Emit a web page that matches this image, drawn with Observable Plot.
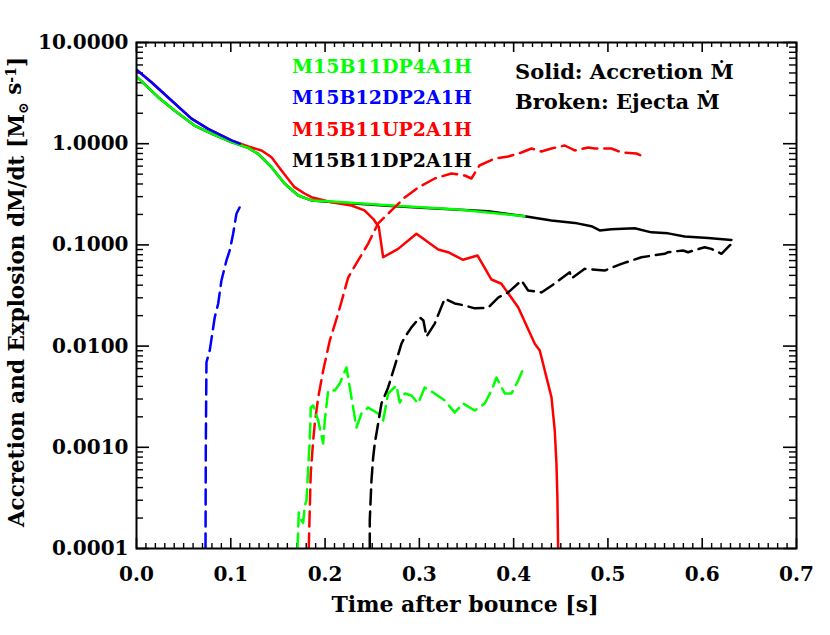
<!DOCTYPE html>
<html>
<head>
<meta charset="utf-8">
<script src="https://cdn.jsdelivr.net/npm/d3@7"></script>
<script src="https://cdn.jsdelivr.net/npm/@observablehq/plot@0.6"></script>
<style>
  html, body { margin: 0; padding: 0; background: #fff; }
  #chart { width: 830px; height: 635px; }
</style>
</head>
<body>
<div id="chart"></div>
<script>
// ---- Data (time after bounce [s], mass rate [Msun/s]) ----
// Solid lines: accretion rate
const tAccBlack = [0, 0.023, 0.0403, 0.0615, 0.0795, 0.1007, 0.1185, 0.129, 0.1432, 0.157, 0.1715, 0.1856, 0.2068, 0.2704, 0.3022, 0.373, 0.4118, 0.4401, 0.4648, 0.4825, 0.4913, 0.5037, 0.5284, 0.5461, 0.5638, 0.5814, 0.6063, 0.631];
const vAccBlack = [4.61, 2.88, 2.13, 1.51, 1.26, 1.035, 0.91, 0.794, 0.586, 0.404, 0.308, 0.275, 0.266, 0.242, 0.233, 0.215, 0.192, 0.174, 0.165, 0.153, 0.139, 0.143, 0.146, 0.133, 0.130, 0.121, 0.117, 0.112];

const tAccRed = [0, 0.0159, 0.0371, 0.0583, 0.076, 0.1007, 0.1185, 0.1326, 0.1432, 0.1538, 0.1676, 0.1782, 0.1856, 0.2068, 0.228, 0.2418, 0.251, 0.257, 0.2616, 0.2775, 0.2969, 0.32, 0.3305, 0.3464, 0.3616, 0.3765, 0.387, 0.4048, 0.4224, 0.4277, 0.4401, 0.4436, 0.4454, 0.4464, 0.4472];
const vAccRed = [5.37, 4.05, 2.67, 1.77, 1.40, 1.08, 0.938, 0.857, 0.736, 0.543, 0.372, 0.322, 0.296, 0.264, 0.245, 0.219, 0.181, 0.150, 0.0755, 0.0914, 0.129, 0.0901, 0.0847, 0.0713, 0.0786, 0.0455, 0.0413, 0.0242, 0.01054, 0.00906, 0.00313, 0.00147, 0.000692, 0.000321, 0.0001];

const tAccGreen = [0, 0.023, 0.0403, 0.0615, 0.0795, 0.1007, 0.1185, 0.129, 0.1432, 0.157, 0.1715, 0.1856, 0.2068, 0.2704, 0.3411, 0.4115];
const vAccGreen = [4.61, 2.88, 2.13, 1.51, 1.26, 1.035, 0.91, 0.794, 0.586, 0.404, 0.308, 0.275, 0.268, 0.245, 0.224, 0.192];

const tAccBlue = [0, 0.0159, 0.0371, 0.0583, 0.076, 0.1007, 0.1095];
const vAccBlue = [5.37, 4.05, 2.67, 1.77, 1.40, 1.08, 1.00];

// Broken lines: ejecta rate
const tEjBlue = [0.0732, 0.0735, 0.0742, 0.0777, 0.083, 0.0866, 0.0901, 0.0954, 0.0989, 0.1025, 0.106, 0.1095];
const vEjBlue = [0.0001, 0.001, 0.00693, 0.00906, 0.0193, 0.0262, 0.0445, 0.0702, 0.0881, 0.129, 0.203, 0.236];

const tEjRed = [0.1827, 0.1838, 0.1848, 0.1874, 0.1891, 0.1927, 0.198, 0.205, 0.2139, 0.2245, 0.2351, 0.2457, 0.2563, 0.2704, 0.2845, 0.2987, 0.3163, 0.334, 0.3481, 0.3552, 0.3637, 0.38, 0.3942, 0.4083, 0.4189, 0.4295, 0.4401, 0.4542, 0.4648, 0.479, 0.486, 0.5037, 0.5143, 0.5302, 0.5373];
const vEjRed = [0.0001, 0.000254, 0.000551, 0.00117, 0.00172, 0.0031, 0.00574, 0.01135, 0.021, 0.0476, 0.0702, 0.103, 0.163, 0.219, 0.294, 0.369, 0.453, 0.508, 0.485, 0.453, 0.609, 0.714, 0.748, 0.819, 0.897, 0.838, 0.897, 0.960, 0.857, 0.917, 0.897, 0.897, 0.819, 0.800, 0.748];

const tEjGreen = [0.1707, 0.1715, 0.1721, 0.175, 0.1768, 0.1785, 0.1803, 0.1821, 0.1838, 0.1848, 0.1874, 0.1927, 0.198, 0.1997, 0.2033, 0.2103, 0.2156, 0.2227, 0.2262, 0.2333, 0.2386, 0.2457, 0.2563, 0.2616, 0.2669, 0.2757, 0.2792, 0.2845, 0.2916, 0.2987, 0.3057, 0.3146, 0.3269, 0.3375, 0.3464, 0.3587, 0.3693, 0.3765, 0.3818, 0.3906, 0.3977, 0.4048, 0.4118];
const vEjGreen = [0.0001, 0.000151, 0.000227, 0.000189, 0.00018, 0.000266, 0.000298, 0.000631, 0.00117, 0.00247, 0.00259, 0.00184, 0.00109, 0.00184, 0.00364, 0.00364, 0.00427, 0.00615, 0.0039, 0.00157, 0.00216, 0.00247, 0.00216, 0.00184, 0.0034, 0.00408, 0.00277, 0.0034, 0.00325, 0.00271, 0.0039, 0.00348, 0.0029, 0.00221, 0.00271, 0.00231, 0.00271, 0.00364, 0.0049, 0.0034, 0.0034, 0.00457, 0.00643];

const tEjBlack = [0.2474, 0.2474, 0.2492, 0.251, 0.2527, 0.2563, 0.2598, 0.2669, 0.2757, 0.281, 0.2845, 0.2916, 0.3004, 0.3043, 0.3075, 0.3163, 0.3269, 0.3375, 0.3481, 0.3587, 0.373, 0.3836, 0.3942, 0.4083, 0.4154, 0.4295, 0.4436, 0.4595, 0.4613, 0.4754, 0.4966, 0.5143, 0.5355, 0.5602, 0.5638, 0.5797, 0.585, 0.6026, 0.6097, 0.6204, 0.631];
const vEjBlack = [0.0001, 0.000189, 0.00047, 0.000793, 0.00109, 0.00172, 0.00271, 0.0039, 0.00721, 0.0106, 0.0122, 0.0153, 0.0192, 0.0179, 0.0124, 0.0167, 0.0295, 0.0264, 0.0252, 0.0236, 0.024, 0.0302, 0.0339, 0.0445, 0.0354, 0.0339, 0.0416, 0.0537, 0.0466, 0.058, 0.0558, 0.065, 0.0755, 0.0817, 0.0847, 0.0881, 0.0847, 0.0949, 0.0914, 0.0817, 0.1026];

// Legend / labels
const modelNames = ["M15B11DP4A1H", "M15B12DP2A1H", "M15B11UP2A1H", "M15B11DP2A1H"];
const modelColors = ["#00ff00", "#0000ff", "#ff0000", "#000000"];
const styleNotes = ["Solid: Accretion \u1E40", "Broken: Ejecta \u1E40"];

// Ticks
const xTicks = [0, 0.1, 0.2, 0.3, 0.4, 0.5, 0.6, 0.7];
const xTickLabels = ["0.0", "0.1", "0.2", "0.3", "0.4", "0.5", "0.6", "0.7"];
const yTicks = [0.0001, 0.001, 0.01, 0.1, 1, 10];
const yTickLabels = ["0.0001", "0.0010", "0.0100", "0.1000", "1.0000", "10.0000"];

// ---- Build ----
const W = 830, H = 635;
const M = {top: 42, right: 34, bottom: 87, left: 136};
const innerW = W - M.left - M.right, innerH = H - M.top - M.bottom;

const zip = (t, v) => t.map((d, i) => ({t: d, v: v[i]}));
const xMinor = d3.range(0, 71).map(i => i / 100).filter((d, i) => i % 10 !== 0);
const yMinor = [];
for (const dec of [0.0001, 0.001, 0.01, 0.1, 1]) for (let k = 2; k <= 9; k++) yMinor.push(k * dec);

const dash = "15,7";
const sw = 2.5;
const solid = (t, v, c) => Plot.line(zip(t, v), {x: "t", y: "v", stroke: c, strokeWidth: sw, clip: true});
const broken = (t, v, c) => Plot.line(zip(t, v), {x: "t", y: "v", stroke: c, strokeWidth: sw, strokeDasharray: dash, clip: true});

const font = "'DejaVu Serif', serif";
const xLab = d => xTickLabels[xTicks.findIndex(v => Math.abs(v - d) < 1e-9)];
const yLab = d => yTickLabels[yTicks.findIndex(v => Math.abs(v / d - 1) < 1e-6)];

const chart = Plot.plot({
  width: W, height: H,
  marginTop: M.top, marginRight: M.right, marginBottom: M.bottom, marginLeft: M.left,
  style: {fontFamily: font, fontWeight: "bold", fontSize: "20px", background: "#fff", color: "#000"},
  x: {domain: [0, 0.7]},
  y: {type: "log", domain: [0.0001, 10]},
  marks: [
    // tick labels
    Plot.axisX(xTicks, {tickFormat: xLab, tickSize: 0, tickPadding: 18, label: null, anchor: "bottom"}),
    Plot.axisY(yTicks, {tickFormat: yLab, tickSize: 0, tickPadding: 8, label: null, anchor: "left"}),
    // inward ticks
    Plot.ruleX(xTicks, {x: d => d, insetTop: innerH - 10, strokeWidth: 1.6}),
    Plot.ruleX(xTicks, {x: d => d, insetBottom: innerH - 10, strokeWidth: 1.6}),
    Plot.ruleX(xMinor, {x: d => d, insetTop: innerH - 5, strokeWidth: 1.4}),
    Plot.ruleX(xMinor, {x: d => d, insetBottom: innerH - 5, strokeWidth: 1.4}),
    Plot.ruleY(yTicks, {y: d => d, insetRight: innerW - 13, strokeWidth: 1.6}),
    Plot.ruleY(yTicks, {y: d => d, insetLeft: innerW - 13, strokeWidth: 1.6}),
    Plot.ruleY(yMinor, {y: d => d, insetRight: innerW - 7, strokeWidth: 1.4}),
    Plot.ruleY(yMinor, {y: d => d, insetLeft: innerW - 7, strokeWidth: 1.4}),
    // accretion (solid)
    solid(tAccBlack, vAccBlack, modelColors[3]),
    solid(tAccRed, vAccRed, modelColors[2]),
    solid(tAccGreen, vAccGreen, modelColors[0]),
    solid(tAccBlue, vAccBlue, modelColors[1]),
    // ejecta (broken)
    broken(tEjBlue, vEjBlue, modelColors[1]),
    broken(tEjRed, vEjRed, modelColors[2]),
    broken(tEjGreen, vEjGreen, modelColors[0]),
    broken(tEjBlack, vEjBlack, modelColors[3]),
    Plot.frame({stroke: "#000", strokeWidth: 2})
  ]
});

document.getElementById("chart").appendChild(chart);
const svg = d3.select(chart);

// model legend
modelNames.forEach((s, i) => {
  svg.append("text")
    .attr("x", 292).attr("y", 66 + i * 31.5)
    .attr("dy", "0.35em")
    .attr("text-anchor", "start")
    .attr("font-family", font).attr("font-weight", "bold").attr("font-size", 19)
    .attr("fill", modelColors[i])
    .text(s);
});

// style notes (right legend)
styleNotes.forEach((s, i) => {
  svg.append("text")
    .attr("x", 515).attr("y", 72 + i * 30)
    .attr("dy", "0.35em")
    .attr("text-anchor", "start")
    .attr("font-family", font).attr("font-weight", "bold").attr("font-size", 21)
    .attr("fill", "#000")
    .text(s);
});

// axis titles
svg.append("text")
  .attr("x", 465).attr("y", 604)
  .attr("dy", "0.35em")
  .attr("text-anchor", "middle")
  .attr("font-family", font).attr("font-weight", "bold").attr("font-size", 22)
  .text("Time after bounce [s]");

const yl = svg.append("text")
  .attr("transform", "translate(16,292) rotate(-90)")
  .attr("dy", "0.35em")
  .attr("text-anchor", "middle")
  .attr("font-family", font).attr("font-weight", "bold").attr("font-size", 21.5);
yl.append("tspan").text("Accretion and Explosion dM/dt [M");
yl.append("tspan").attr("font-size", 14).attr("dy", "0.3em").text("\u2299");
yl.append("tspan").attr("dy", "-0.3em").text(" s");
yl.append("tspan").attr("font-size", 14).attr("dy", "-0.4em").text("-1");
yl.append("tspan").attr("dy", "0.4em").text("]");
</script>
</body>
</html>
